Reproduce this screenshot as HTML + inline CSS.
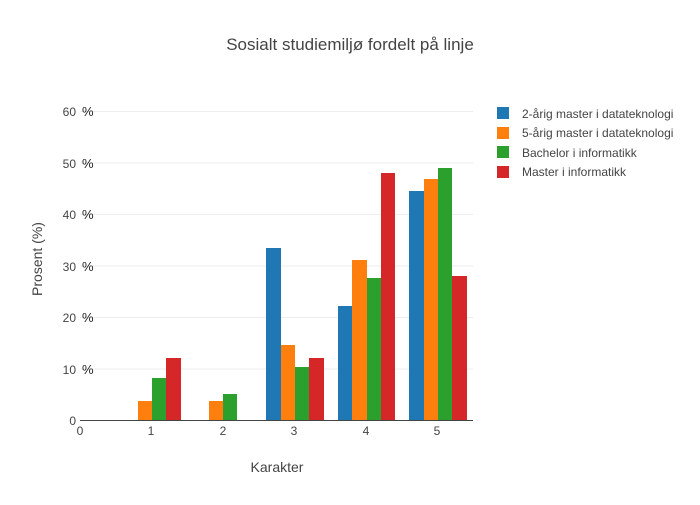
<!DOCTYPE html><html><head><style>body{margin:0;background:#fff}svg{font-family:"Liberation Sans",sans-serif}</style></head><body>
<svg width="700" height="500" xmlns="http://www.w3.org/2000/svg">
<text x="350" y="50" text-anchor="middle" font-size="17" fill="#444">Sosialt studiemiljø fordelt på linje</text>
<g stroke="#eee" stroke-width="1">
<line x1="80" x2="473" y1="111.5" y2="111.5"/><line x1="80" x2="473" y1="163" y2="163"/><line x1="80" x2="473" y1="214.5" y2="214.5"/><line x1="80" x2="473" y1="266" y2="266"/><line x1="80" x2="473" y1="317.5" y2="317.5"/><line x1="80" x2="473" y1="369" y2="369"/>
</g>
<g font-size="12" fill="#444" text-anchor="end">
<text x="76" y="116">60</text><text x="76" y="168">50</text><text x="76" y="219">40</text><text x="76" y="271">30</text><text x="76" y="322">20</text><text x="76" y="374">10</text><text x="76" y="425">0</text>
</g>
<g font-size="13" fill="#222">
<text x="82" y="116">%</text><text x="82" y="168">%</text><text x="82" y="219">%</text><text x="82" y="271">%</text><text x="82" y="322">%</text><text x="82" y="374">%</text>
</g>
<g font-size="12" fill="#444" text-anchor="middle">
<text x="80" y="435">0</text><text x="151" y="435">1</text><text x="223" y="435">2</text><text x="294" y="435">3</text><text x="366" y="435">4</text><text x="437" y="435">5</text>
</g>
<g>
<rect x="138" y="401" width="14" height="19" fill="#ff7f0e"/><rect x="152" y="378" width="14" height="42" fill="#2ca02c"/><rect x="166" y="358" width="15" height="62" fill="#d62728"/>
<rect x="209" y="401" width="14" height="19" fill="#ff7f0e"/><rect x="223" y="394" width="14" height="26" fill="#2ca02c"/>
<rect x="266" y="248" width="15" height="172" fill="#1f77b4"/><rect x="281" y="345" width="14" height="75" fill="#ff7f0e"/><rect x="295" y="367" width="14" height="53" fill="#2ca02c"/><rect x="309" y="358" width="15" height="62" fill="#d62728"/>
<rect x="338" y="306" width="14" height="114" fill="#1f77b4"/><rect x="352" y="260" width="15" height="160" fill="#ff7f0e"/><rect x="367" y="278" width="14" height="142" fill="#2ca02c"/><rect x="381" y="173" width="14" height="247" fill="#d62728"/>
<rect x="409" y="191" width="15" height="229" fill="#1f77b4"/><rect x="424" y="179" width="14" height="241" fill="#ff7f0e"/><rect x="438" y="168" width="14" height="252" fill="#2ca02c"/><rect x="452" y="276" width="15" height="144" fill="#d62728"/>
</g>
<line x1="80" x2="473" y1="420.5" y2="420.5" stroke="#444"/>
<text x="277" y="472" text-anchor="middle" font-size="14" fill="#444">Karakter</text>
<text transform="translate(42,259) rotate(-90)" text-anchor="middle" font-size="14" fill="#444">Prosent (%)</text>
<g font-size="12" fill="#444">
<rect x="497" y="107" width="12" height="12" fill="#1f77b4"/><text x="522" y="118">2-årig master i datateknologi</text>
<rect x="497" y="127" width="12" height="12" fill="#ff7f0e"/><text x="522" y="137">5-årig master i datateknologi</text>
<rect x="497" y="146" width="12" height="12" fill="#2ca02c"/><text x="522" y="157">Bachelor i informatikk</text>
<rect x="497" y="166" width="12" height="12" fill="#d62728"/><text x="522" y="176">Master i informatikk</text>
</g>
</svg></body></html>
